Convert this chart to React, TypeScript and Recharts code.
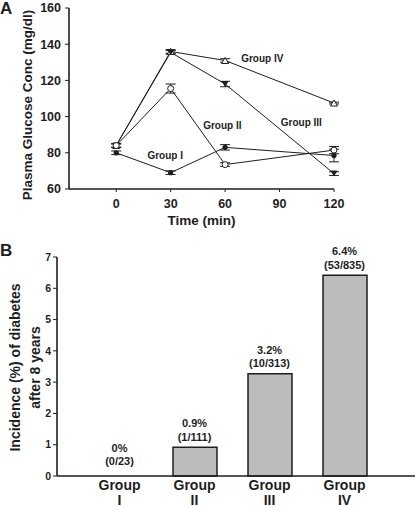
import React from 'react';
import {
    LineChart,
    Line,
    XAxis,
    YAxis,
    ErrorBar,
    ReferenceDot,
    Label,
    BarChart,
    Bar,
} from 'recharts';

const FONT = '"Liberation Sans", Arial, sans-serif';
const INK = '#1e1e1e';

// Panel A: plasma glucose during OGTT
const times = [0, 30, 60, 120];
const timeTicks = [0, 30, 60, 90, 120];
const glucoseTicks = [60, 80, 100, 120, 140, 160];
const group1 = [80, 69, 83, 78.5];
const group2 = [84, 115.5, 73.5, 81.5];
const group3 = [84, 135.5, 118, 68.5];
const group4 = [84, 136, 131, 107.5];
const group1Err = [1, 1, 1.5, 3.5];
const group2Err = [1, 2.5, 1, 2];
const group3Err = [1, 1, 1.5, 1];
const group4Err = [1, 1, 1, 0.5];

const seriesNames = ['Group I', 'Group II', 'Group III', 'Group IV'];
const nameTimes = [27, 58.5, 102, 80.5];
const nameLevels = [78.5, 95, 96.5, 132];

// Panel B: incidence of diabetes
const groups = ['I', 'II', 'III', 'IV'];
const incidence = [0, 0.92, 3.27, 6.42];
const pctText = ['0%', '0.9%', '3.2%', '6.4%'];
const countText = ['(0/23)', '(1/111)', '(10/313)', '(53/835)'];
const incidenceTicks = [0, 1, 2, 3, 4, 5, 6, 7];

const lineData = times.map((t, i) => ({
    t,
    g1: group1[i], e1: group1Err[i],
    g2: group2[i], e2: group2Err[i],
    g3: group3[i], e3: group3Err[i],
    g4: group4[i], e4: group4Err[i],
}));

const barData = groups.map((g, i) => ({ g, v: incidence[i] }));

const Marker = ({ cx, cy, kind }: any) => {
    if (cx == null || cy == null) return null;
    if (kind === 'filledCircle') return <circle cx={cx} cy={cy} r={2.6} fill={INK} />;
    if (kind === 'openCircle')
        return <circle cx={cx} cy={cy} r={3} fill="#fff" stroke={INK} strokeWidth={1} />;
    if (kind === 'filledDown')
        return <polygon points={`${cx - 3.5},${cy - 3} ${cx + 3.5},${cy - 3} ${cx},${cy + 3}`} fill={INK} />;
    return (
        <polygon
            points={`${cx - 3.5},${cy + 3} ${cx + 3.5},${cy + 3} ${cx},${cy - 3}`}
            fill="#fff"
            stroke={INK}
            strokeWidth={1}
        />
    );
};

const dotOf = (kind: string) => (p: any) => <Marker key={p.index} cx={p.cx} cy={p.cy} kind={kind} />;

const tickStyle = { fill: INK, fontSize: 12.5, fontWeight: 'bold', fontFamily: FONT };

const GroupTick = ({ x, y, payload }: any) => (
    <g transform={`translate(${x},${y})`}>
        <text textAnchor="middle" fontSize={14} fontWeight="bold" fill={INK} fontFamily={FONT}>
            <tspan x={0} dy={6}>Group</tspan>
            <tspan x={0} dy={15}>{payload.value}</tspan>
        </text>
    </g>
);

// two-line note above each bar, anchored at the bar top
const BarNote = ({ viewBox, index }: any) => {
    if (!viewBox) return null;
    const cx = viewBox.x;
    const top = viewBox.y;
    const extra = incidence[index] === 0 ? 4 : 0;
    const style = { fontSize: 11, fontWeight: 'bold', fontFamily: FONT, fill: INK } as any;
    return (
        <g>
            <text x={cx} y={top - 24 - extra} dy="0.36em" textAnchor="middle" style={style}>
                {pctText[index]}
            </text>
            <text x={cx} y={top - 10.5 - extra} dy="0.36em" textAnchor="middle" style={style}>
                {countText[index]}
            </text>
        </g>
    );
};

const IncidenceTitle = ({ viewBox }: any) => {
    const cy = viewBox.y + viewBox.height / 2 + 1;
    return (
        <g transform={`translate(25,${cy}) rotate(-90)`}>
            <text textAnchor="middle" fontSize={14} fontWeight="bold" fill={INK} fontFamily={FONT}>
                <tspan x={0} y={-10} dominantBaseline="central">Incidence (%) of diabetes</tspan>
                <tspan x={0} y={10} dominantBaseline="central">after 8 years</tspan>
            </text>
        </g>
    );
};

const panelLetter: React.CSSProperties = {
    position: 'absolute',
    left: 0,
    fontFamily: FONT,
    fontWeight: 'bold',
    fontSize: 17,
    color: INK,
    lineHeight: 1,
};

export default function App() {
    return (
        <div style={{ position: 'absolute', left: 0, top: 0, width: 416, height: 507, background: '#fff', fontFamily: FONT }}>
            <div style={{ ...panelLetter, top: 0 }}>A</div>
            <div style={{ ...panelLetter, top: 242 }}>B</div>

            <div style={{ position: 'absolute', left: 0, top: 0 }}>
                <LineChart width={416} height={240} data={lineData} margin={{ top: 8, right: 82, left: 0, bottom: 0 }}>
                    <XAxis
                        dataKey="t"
                        type="number"
                        domain={[-26, 120]}
                        ticks={timeTicks}
                        height={51}
                        tickSize={3}
                        tickMargin={7}
                        tick={tickStyle}
                        stroke={INK}
                        axisLine={{ stroke: INK, strokeWidth: 1.6 }}
                    >
                        <Label
                            value="Time (min)"
                            position="insideBottom"
                            offset={15}
                            style={{ fill: INK, fontSize: 13.5, fontWeight: 'bold', fontFamily: FONT }}
                        />
                    </XAxis>
                    <YAxis
                        type="number"
                        domain={[60, 160]}
                        ticks={glucoseTicks}
                        width={69}
                        tickSize={4}
                        tickMargin={4}
                        tick={tickStyle}
                        stroke={INK}
                        axisLine={{ stroke: INK, strokeWidth: 1.6 }}
                    >
                        <Label
                            value="Plasma Glucose Conc (mg/dl)"
                            angle={-90}
                            position="center"
                            dx={-7.5}
                            dy={6.5}
                            style={{ fill: INK, fontSize: 13.5, fontWeight: 'bold', fontFamily: FONT, textAnchor: 'middle' }}
                        />
                    </YAxis>

                    <Line dataKey="g4" stroke={INK} strokeWidth={1} dot={dotOf('openUp')} isAnimationActive={false}>
                        <ErrorBar dataKey="e4" width={5} stroke={INK} strokeWidth={1} direction="y" />
                    </Line>
                    <Line dataKey="g3" stroke={INK} strokeWidth={1} dot={dotOf('filledDown')} isAnimationActive={false}>
                        <ErrorBar dataKey="e3" width={5} stroke={INK} strokeWidth={1} direction="y" />
                    </Line>
                    <Line dataKey="g2" stroke={INK} strokeWidth={1} dot={dotOf('openCircle')} isAnimationActive={false}>
                        <ErrorBar dataKey="e2" width={5} stroke={INK} strokeWidth={1} direction="y" />
                    </Line>
                    <Line dataKey="g1" stroke={INK} strokeWidth={1} dot={dotOf('filledCircle')} isAnimationActive={false}>
                        <ErrorBar dataKey="e1" width={5} stroke={INK} strokeWidth={1} direction="y" />
                    </Line>

                    {seriesNames.map((name, i) => (
                        <ReferenceDot
                            key={name}
                            x={nameTimes[i]}
                            y={nameLevels[i]}
                            r={0}
                            fill="none"
                            stroke="none"
                            label={{
                                value: name,
                                position: 'center',
                                fill: INK,
                                fontSize: 10,
                                fontWeight: 'bold',
                                fontFamily: FONT,
                            }}
                        />
                    ))}
                </LineChart>
            </div>

            <div style={{ position: 'absolute', left: 0, top: 240 }}>
                <BarChart width={416} height={267} data={barData} margin={{ top: 17, right: 1, left: 0, bottom: 0 }}>
                    <XAxis
                        dataKey="g"
                        padding={{ left: 25, right: 33 }}
                        height={31}
                        interval={0}
                        tickLine={false}
                        tick={<GroupTick />}
                        axisLine={{ stroke: INK, strokeWidth: 1.6 }}
                    />
                    <YAxis
                        type="number"
                        domain={[0, 7]}
                        ticks={incidenceTicks}
                        width={57}
                        tickSize={4}
                        tickMargin={2}
                        tick={{ fill: INK, fontSize: 10.5, fontWeight: 'bold', fontFamily: FONT }}
                        stroke={INK}
                        axisLine={{ stroke: INK, strokeWidth: 1.6 }}
                    >
                        <Label content={<IncidenceTitle />} />
                    </YAxis>
                    <Bar dataKey="v" fill="#bcbcbc" stroke={INK} strokeWidth={1.5} barSize={44} isAnimationActive={false} />
                    {groups.map((g, i) => (
                        <ReferenceDot
                            key={g}
                            x={g}
                            y={incidence[i]}
                            r={0}
                            fill="none"
                            stroke="none"
                            label={(p: any) => <BarNote viewBox={p.viewBox} index={i} />}
                        />
                    ))}
                </BarChart>
            </div>
        </div>
    );
}
